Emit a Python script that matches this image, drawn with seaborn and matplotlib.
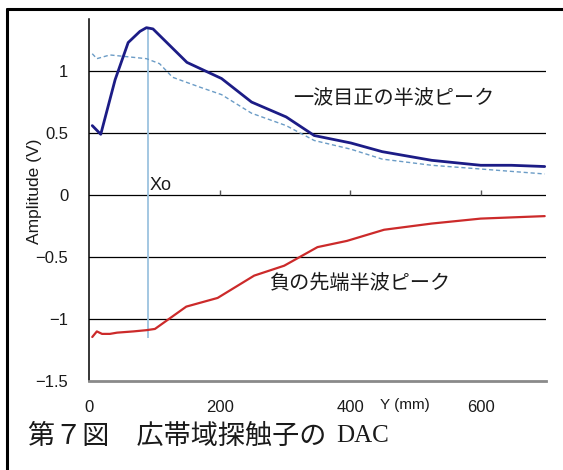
import matplotlib
matplotlib.use("Agg")
import matplotlib.pyplot as plt
from matplotlib.lines import Line2D
from matplotlib.ticker import FuncFormatter
import seaborn as sns
import pandas as pd

# Positive first half-wave peak (solid) and its reference curve (dashed)
pos_y_mm = [5, 18, 40, 60, 78, 88, 98, 150, 203, 249, 302, 345, 401, 449, 525, 600, 647, 698]
pos_amp = [0.56, 0.49, 0.93, 1.23, 1.32, 1.35, 1.34, 1.07, 0.94, 0.75, 0.63, 0.48, 0.42, 0.35, 0.28, 0.24, 0.24, 0.23]

ref_y_mm = [5, 12, 32, 88, 108, 128, 170, 203, 249, 302, 345, 401, 449, 525, 600, 698]
ref_amp = [1.14, 1.10, 1.13, 1.10, 1.06, 0.95, 0.87, 0.81, 0.66, 0.56, 0.44, 0.37, 0.29, 0.24, 0.21, 0.17]

# Negative leading half-wave peak
neg_y_mm = [5, 12, 20, 32, 43, 68, 88, 101, 149, 197, 253, 299, 350, 395, 452, 525, 600, 698]
neg_amp = [-1.145, -1.10, -1.12, -1.12, -1.11, -1.10, -1.09, -1.08, -0.90, -0.83, -0.65, -0.57,
           -0.42, -0.37, -0.28, -0.23, -0.19, -0.17]

# Near-field limit marker Xo
xo_mm = 90
xo_span = [-1.15, 1.35]

y_ticks = [-1.5, -1, -0.5, 0, 0.5, 1]
x_ticks = [0, 200, 400, 600]

pos_label = "一波目正の半波ピーク"
neg_label = "負の先端半波ピーク"
caption_jp = "第７図　広帯域探触子の"
caption_en = "DAC"

sns.set_style("white")
plt.rcParams["font.family"] = ["Liberation Sans", "Noto Sans CJK JP", "DejaVu Sans"]
plt.rcParams["axes.unicode_minus"] = True

fig = plt.figure(figsize=(5.63, 4.70), dpi=100)
ax = fig.add_axes([89 / 563, 1 - 381 / 470, (546 - 89) / 563, (381 - 19) / 470])

pos_df = pd.DataFrame({"y": pos_y_mm, "amp": pos_amp})
ref_df = pd.DataFrame({"y": ref_y_mm, "amp": ref_amp})
neg_df = pd.DataFrame({"y": neg_y_mm, "amp": neg_amp})

# Horizontal grid lines
for v in y_ticks[1:]:
    ax.axhline(v, color="black", lw=0.9, zorder=1)

# Minor tick marks sitting on the zero line
ax.vlines(x_ticks[1:], 0, 0.04, color="#555555", lw=1.0, zorder=1)

ax.vlines(xo_mm, xo_span[0], xo_span[1], color="#9cc3df", lw=1.3, zorder=2)

sns.lineplot(data=ref_df, x="y", y="amp", ax=ax, sort=False, color="#6b9cc6",
             lw=1.0, linestyle=(0, (3, 2)), zorder=3)
sns.lineplot(data=pos_df, x="y", y="amp", ax=ax, sort=False, color="#1c1c86",
             lw=2.0, zorder=4)
sns.lineplot(data=neg_df, x="y", y="amp", ax=ax, sort=False, color="#cc2a2a",
             lw=1.6, zorder=4)

ax.set_xlim(0, 700)
ax.set_ylim(-1.5, 1.42)
ax.set_xticks(x_ticks)
ax.set_yticks(y_ticks)
ax.yaxis.set_major_formatter(FuncFormatter(lambda v, p: f"{v:g}".replace("-", "\u2212")))
ax.tick_params(axis="both", length=0, labelsize=12, colors="#1a1a1a")
ax.tick_params(axis="y", pad=15)
ax.tick_params(axis="x", pad=14)
ax.set_xlabel("")
ax.set_ylabel("")

for side in ["top", "right"]:
    ax.spines[side].set_visible(False)
ax.spines["left"].set_color("black")
ax.spines["left"].set_linewidth(1.1)
ax.spines["bottom"].set_color("#8a8a8a")
ax.spines["bottom"].set_linewidth(2.0)

ax.text(313, 0.78, pos_label, fontsize=14.5, family=["Noto Sans CJK JP"],
        ha="left", va="center", color="#1a1a1a")
ax.text(276, -0.71, neg_label, fontsize=14.5, family=["Noto Sans CJK JP"],
        ha="left", va="center", color="#1a1a1a")
ax.text(93, 0.08, "Xo", fontsize=13, ha="left", va="center", color="#1a1a1a")

fig.text(405 / 563, 1 - 405 / 470, "Y (mm)", fontsize=11, ha="center", va="center",
         color="#1a1a1a")
fig.text(35 / 563, 1 - 191 / 470, "Amplitude (V)", fontsize=12.5, rotation=90,
         ha="center", va="center", color="#1a1a1a")

fig.text(28 / 563, 1 - 436 / 470, caption_jp, fontsize=19.5, family=["Noto Sans CJK JP"],
         ha="left", va="center", color="#1a1a1a")
fig.text(389 / 563, 1 - 436 / 470, caption_en, fontsize=18, family=["Liberation Serif"],
         ha="right", va="center", color="#1a1a1a")

# Frame edges around the figure
fig.add_artist(Line2D([7 / 563, 7 / 563], [0, 1 - 9 / 470], transform=fig.transFigure,
                      color="black", lw=2.2))
fig.add_artist(Line2D([7 / 563, 1], [1 - 9 / 470, 1 - 9 / 470], transform=fig.transFigure,
                      color="black", lw=2.2))

fig.savefig("out.png", dpi=100)
